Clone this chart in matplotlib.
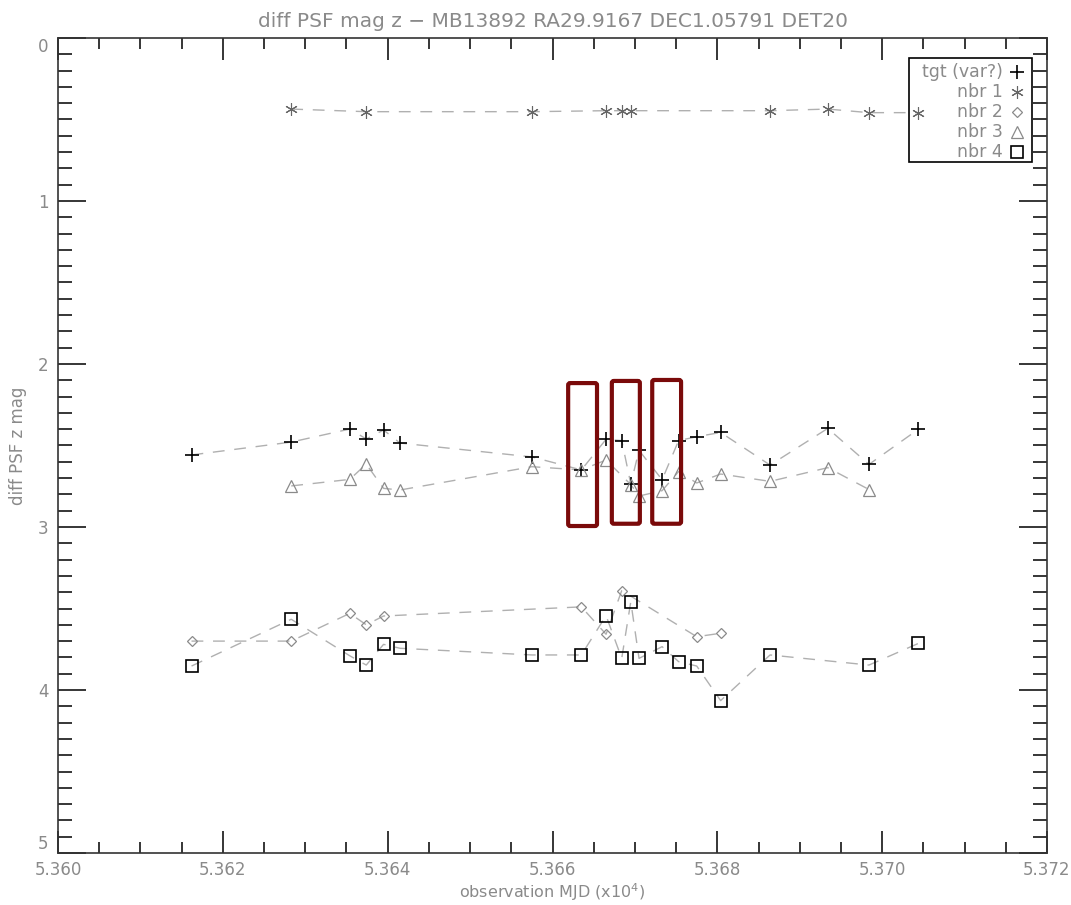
import matplotlib
matplotlib.use("Agg")
import matplotlib.pyplot as plt
from matplotlib.patches import FancyBboxPatch, Rectangle
from matplotlib.ticker import MultipleLocator, FuncFormatter, FixedLocator

# ---------------- data (MJD, diff PSF z mag) ----------------
tgt_mjd = [53616.2, 53628.3, 53635.4, 53637.4, 53639.5, 53641.5, 53657.5, 53663.5,
           53666.5, 53668.4, 53669.5, 53670.5, 53673.3, 53675.3, 53677.5, 53680.4,
           53686.4, 53693.4, 53698.4, 53704.4]
tgt_mag = [2.558, 2.479, 2.399, 2.46, 2.405, 2.485, 2.57, 2.65,
           2.462, 2.47, 2.736, 2.53, 2.71, 2.47, 2.446, 2.42,
           2.62, 2.395, 2.616, 2.40]

nbr1_mjd = [53628.3, 53637.4, 53657.5, 53666.5, 53668.4, 53669.5, 53686.4, 53693.4,
            53698.4, 53704.4]
nbr1_mag = [0.436, 0.452, 0.452, 0.446, 0.446, 0.446, 0.446, 0.436, 0.458, 0.458]

nbr2_mjd = [53616.2, 53628.3, 53635.4, 53637.4, 53639.5, 53663.5, 53666.5, 53668.4,
            53677.5, 53680.4]
nbr2_mag = [3.70, 3.70, 3.53, 3.60, 3.546, 3.49, 3.658, 3.39, 3.673, 3.652]

nbr3_mjd = [53628.3, 53635.4, 53637.4, 53639.5, 53641.5, 53657.5, 53663.5, 53666.5,
            53669.5, 53670.5, 53673.3, 53675.3, 53677.5, 53680.4, 53686.4, 53693.4,
            53698.4]
nbr3_mag = [2.748, 2.708, 2.614, 2.763, 2.773, 2.63, 2.65, 2.589,
            2.74, 2.81, 2.777, 2.66, 2.73, 2.675, 2.72, 2.636, 2.77]

nbr4_mjd = [53616.2, 53628.3, 53635.4, 53637.4, 53639.5, 53641.5, 53657.5, 53663.5,
            53666.5, 53668.4, 53669.5, 53670.5, 53673.3, 53675.3, 53677.5, 53680.4,
            53686.4, 53698.4, 53704.4]
nbr4_mag = [3.853, 3.566, 3.79, 3.847, 3.72, 3.744, 3.785, 3.785,
            3.544, 3.806, 3.458, 3.806, 3.734, 3.826, 3.853, 4.065,
            3.785, 3.847, 3.714]

legend_labels = ["tgt (var?)", "nbr 1", "nbr 2", "nbr 3", "nbr 4"]
y_ticks = [0, 1, 2, 3, 4, 5]

# highlight boxes (MJD start, MJD end, mag top, mag bottom)
box_x0 = [53661.9, 53667.2, 53672.1]
box_x1 = [53665.4, 53670.6, 53675.6]
box_y0 = [2.117, 2.104, 2.098]
box_y1 = [2.994, 2.980, 2.980]

title = "diff PSF mag z \u2212 MB13892 RA29.9167 DEC1.05791 DET20"
xlabel = "observation MJD (x10$^4$)"
ylabel = "diff PSF z mag"

# ---------------- style ----------------
TXT = "#8a8a8a"
LINE = "#b0b0b0"
plt.rcParams['font.family'] = ['DejaVu Sans']
plt.rcParams['mathtext.fontset'] = 'dejavusans'

fig = plt.figure(figsize=(10.71, 9.05), dpi=100)
ax = fig.add_axes([58 / 1071, 1 - 853 / 905, (1047 - 58) / 1071, (853 - 38) / 905])

dash = (0, (8.5, 7))
series = [
    (tgt_mjd, tgt_mag, dict(marker='+', ms=10, mew=1.2, mec='black', mfc='none')),
    (nbr1_mjd, nbr1_mag, dict(marker=(6, 2, 0), ms=9, mew=0.8, mec='#666666', mfc='none')),
    (nbr2_mjd, nbr2_mag, dict(marker='D', ms=5.5, mew=0.9, mec='#8a8a8a', mfc='none')),
    (nbr3_mjd, nbr3_mag, dict(marker='^', ms=8.5, mew=0.9, mec='#8a8a8a', mfc='none')),
    (nbr4_mjd, nbr4_mag, dict(marker='s', ms=8, mew=1.2, mec='black', mfc='none')),
]
for xs, ys, st in series:
    ax.plot(xs, ys, color=LINE, lw=1.0, linestyle=dash, zorder=2)
    ax.plot(xs, ys, linestyle='none', zorder=3, **st)

for x0, x1, y0, y1 in zip(box_x0, box_x1, box_y0, box_y1):
    p = FancyBboxPatch((x0, y0), x1 - x0, y1 - y0,
                       boxstyle="round,pad=0,rounding_size=0.25",
                       mutation_aspect=8.225 / 163,
                       fill=False, ec='#7a0a0a', lw=3.0, zorder=5)
    ax.add_patch(p)

ax.set_xlim(53600, 53720)
ax.set_ylim(5, 0)
ax.xaxis.set_major_locator(MultipleLocator(20))
ax.xaxis.set_minor_locator(MultipleLocator(5))
ax.yaxis.set_major_locator(FixedLocator(y_ticks))
ax.yaxis.set_minor_locator(MultipleLocator(0.1))
ax.xaxis.set_major_formatter(FuncFormatter(lambda v, p: f"{v / 1e4:.3f}"))
ax.yaxis.set_major_formatter(FuncFormatter(lambda v, p: f"{v:.0f}"))

ax.tick_params(which='both', direction='in', top=True, right=True, color='black',
               labelcolor=TXT, labelsize=12, width=1.1)
ax.tick_params(axis='x', which='major', length=16, pad=6)
ax.tick_params(axis='x', which='minor', length=8)
ax.tick_params(axis='y', which='major', length=20, pad=7)
ax.tick_params(axis='y', which='minor', length=10)
for s in ax.spines.values():
    s.set_color('#333333')
    s.set_linewidth(1.2)

# IDL-like placement of the end labels on the y axis
yt = ax.yaxis.get_major_ticks()
yt[0].label1.set_va('top')
yt[-1].label1.set_va('bottom')

ax.set_title(title, color=TXT, fontsize=14.5, pad=8)
ax.set_ylabel(ylabel, color=TXT, fontsize=12, labelpad=8)
fig.text(552.5 / 1071, 1 - 892 / 905, xlabel, ha='center', va='center',
         color=TXT, fontsize=11.5)

# ---------------- legend (manual, IDL style) ----------------
lx0, lx1 = (909 - 58) / 989, (1032 - 58) / 989
ly0, ly1 = 1 - (162 - 38) / 815, 1 - (58 - 38) / 815
ax.add_patch(Rectangle((lx0, ly0), lx1 - lx0, ly1 - ly0, transform=ax.transAxes,
                       fill=False, ec='black', lw=1.2, zorder=6))
row_y = [72, 92, 112, 132, 152]
text_right = (1003 - 58) / 989
mark_x = (1017 - 58) / 989
for lab, yy, (_, _, st) in zip(legend_labels, row_y, series):
    ya = 1 - (yy - 38) / 815
    ax.text(text_right, ya, lab, transform=ax.transAxes, ha='right', va='center',
            color=TXT, fontsize=12.5, zorder=7)
    ax.plot([mark_x], [ya], transform=ax.transAxes, linestyle='none', zorder=7,
            clip_on=False, **st)

fig.savefig("out.png", dpi=100)
